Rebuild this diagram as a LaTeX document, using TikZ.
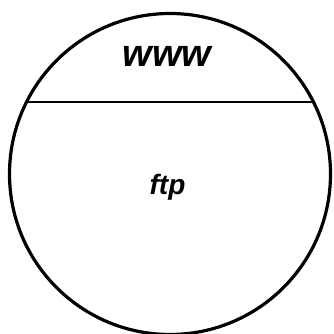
\documentclass[tikz,border=0pt]{standalone}
\usepackage{fontspec}
\newfontfamily\arialfont{Liberation Sans}
\begin{document}
\begin{tikzpicture}[x=1pt,y=1pt,
  ring/.style={circle,draw,line width=3.2pt,inner sep=0pt,outer sep=0pt,minimum size=321pt},
  chord/.style={line width=2.4pt},
  lbl/.style={font=\arialfont\bfseries\itshape,anchor=base,inner sep=0pt}]
\useasboundingbox (0,0) rectangle (333,334);
\node[ring] (c) at (170,160) {};
\coordinate (l) at ([shift={(153.35:160.5)}]c.center);
\coordinate (r) at ([shift={(26.65:160.5)}]c.center);
\draw[chord] (l) -- (r);
\node[lbl,font=\arialfont\bfseries\itshape\fontsize{38}{40}\selectfont] (www) at (167,267) {www};
\node[lbl,font=\arialfont\bfseries\itshape\fontsize{28}{30}\selectfont] (ftp) at (167.5,139) {ftp};
\end{tikzpicture}
\end{document}
